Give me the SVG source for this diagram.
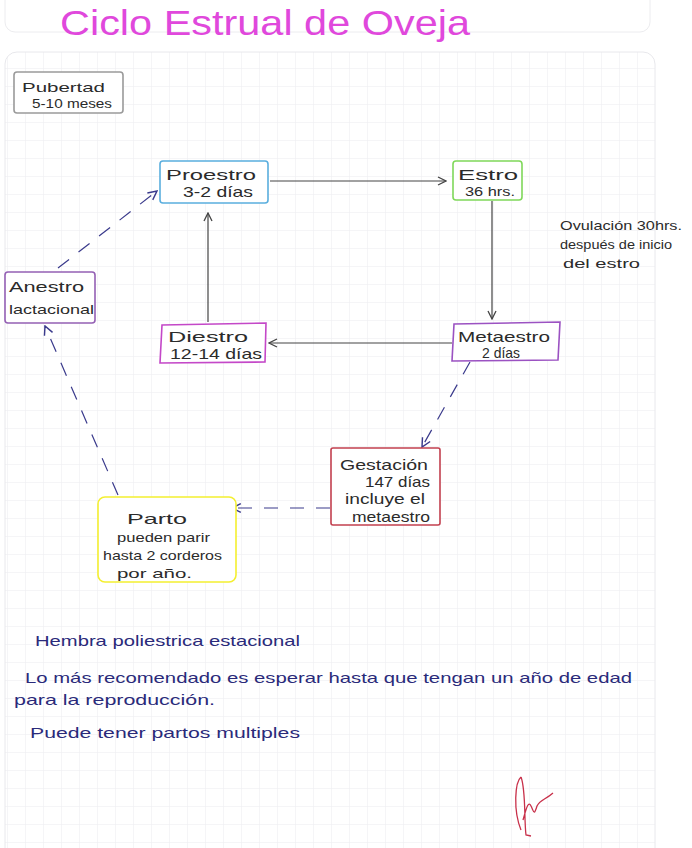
<svg xmlns="http://www.w3.org/2000/svg" width="692" height="848" viewBox="0 0 692 848">
<defs>
<pattern id="grid" x="7" y="14" width="18" height="18" patternUnits="userSpaceOnUse">
<path d="M0,0 H18 M0,0 V18" fill="none" stroke="#ececef" stroke-width="1"/>
</pattern>
<marker id="arr" viewBox="0 0 10 10" refX="9" refY="5" markerWidth="10" markerHeight="10" markerUnits="userSpaceOnUse" orient="auto">
<path d="M1,1 L9,5 L1,9" fill="none" stroke="#444" stroke-width="1.3"/>
</marker>
<marker id="arrB" viewBox="0 0 10 10" refX="9" refY="5" markerWidth="11" markerHeight="11" markerUnits="userSpaceOnUse" orient="auto">
<path d="M1,1 L9,5 L1,9" fill="none" stroke="#3a3a8c" stroke-width="1.3"/>
</marker>
</defs>
<style>
text{font-family:"Liberation Sans","DejaVu Sans",sans-serif;}
.t{font-size:15px;fill:#2b2b2b;}
.s{font-size:13px;fill:#2b2b2b;}
.n{font-size:15px;fill:#2a2a7a;}
.box{fill:#fff;stroke-width:1.6;}
.line{fill:none;stroke:#444;stroke-width:1.2;marker-end:url(#arr);}
.dash{fill:none;stroke:#3a3a8c;stroke-width:1.2;stroke-dasharray:14 12;marker-end:url(#arrB);}
</style>
<rect x="0" y="0" width="692" height="848" fill="#ffffff"/>
<rect x="5" y="-12" width="645" height="44" rx="10" fill="none" stroke="#ececef" stroke-width="1"/>
<rect x="5" y="52" width="650" height="810" rx="12" fill="url(#grid)" stroke="#e8e8ec" stroke-width="1"/>
<text x="60" y="35" font-size="35" fill="#e048dc" textLength="410" lengthAdjust="spacingAndGlyphs">Ciclo Estrual de Oveja</text>

<g id="connectors">
<path class="line" d="M270,181 L446,181"/>
<path class="line" d="M492,201 L492,319"/>
<path class="line" d="M452,343 L269,343"/>
<path class="line" d="M208,322 L208,213"/>
<path class="dash" d="M58,268 L157,191"/>
<path class="dash" d="M470,362 L422,447"/>
<path class="dash" d="M330,508 L232,508"/>
<path class="dash" d="M118,495 L45,326"/>
</g>

<g id="pubertad">
<rect class="box" x="14" y="72" width="109" height="41" rx="3" stroke="#9a9a9a" stroke-width="1.2"/>
<text class="s" x="22" y="92" textLength="83" lengthAdjust="spacingAndGlyphs">Pubertad</text>
<text class="s" x="32" y="108" textLength="80" lengthAdjust="spacingAndGlyphs">5-10 meses</text>
</g>

<g id="proestro">
<rect class="box" x="160" y="161" width="108" height="42" rx="3" stroke="#5aaede"/>
<text class="t" x="166" y="180" font-size="17" textLength="90" lengthAdjust="spacingAndGlyphs">Proestro</text>
<text class="t" x="183" y="197" textLength="70" lengthAdjust="spacingAndGlyphs">3-2 días</text>
</g>

<g id="estro">
<rect class="box" x="453" y="161" width="69" height="39" rx="3" stroke="#7fd85a"/>
<text class="t" x="458" y="180" textLength="60" lengthAdjust="spacingAndGlyphs">Estro</text>
<text class="s" x="465" y="196" textLength="50" lengthAdjust="spacingAndGlyphs">36 hrs.</text>
</g>

<g id="ovulacion">
<text class="s" x="560" y="230" textLength="122" lengthAdjust="spacingAndGlyphs">Ovulación 30hrs.</text>
<text class="s" x="560" y="249" textLength="112" lengthAdjust="spacingAndGlyphs">después de inicio</text>
<text class="s" x="563" y="268" textLength="77" lengthAdjust="spacingAndGlyphs">del estro</text>
</g>

<g id="metaestro">
<path class="box" d="M454,324 L560,322 L558,360 L452,361 Z" stroke="#9b52c2"/>
<text class="t" x="458" y="342" textLength="92" lengthAdjust="spacingAndGlyphs">Metaestro</text>
<text class="t" x="482" y="358" textLength="38" lengthAdjust="spacingAndGlyphs">2 días</text>
</g>

<g id="diestro">
<path class="box" d="M162,325 L266,323 L265,362 L160,363 Z" stroke="#c448c8"/>
<text class="t" x="168" y="342" textLength="80" lengthAdjust="spacingAndGlyphs">Diestro</text>
<text class="t" x="170" y="359" textLength="92" lengthAdjust="spacingAndGlyphs">12-14 días</text>
</g>

<g id="anestro">
<rect class="box" x="5" y="272" width="90" height="51" rx="3" stroke="#9460b4"/>
<text class="t" x="9" y="292" textLength="75" lengthAdjust="spacingAndGlyphs">Anestro</text>
<text class="s" x="9" y="314" textLength="85" lengthAdjust="spacingAndGlyphs">lactacional</text>
</g>

<g id="gestacion">
<rect class="box" x="331" y="448" width="109" height="77" rx="2" stroke="#c2404f"/>
<text class="t" x="340" y="470" font-size="17" textLength="88" lengthAdjust="spacingAndGlyphs">Gestación</text>
<text class="t" x="365" y="487" textLength="65" lengthAdjust="spacingAndGlyphs">147 días</text>
<text class="t" x="345" y="504" textLength="80" lengthAdjust="spacingAndGlyphs">incluye el</text>
<text class="t" x="352" y="522" textLength="78" lengthAdjust="spacingAndGlyphs">metaestro</text>
</g>

<g id="parto">
<rect class="box" x="98" y="497" width="138" height="85" rx="7" stroke="#f4ef30" stroke-width="3"/>
<text class="t" x="127" y="524" font-size="21" textLength="60" lengthAdjust="spacingAndGlyphs">Parto</text>
<text class="s" x="117" y="542" textLength="93" lengthAdjust="spacingAndGlyphs">pueden parir</text>
<text class="s" x="103" y="560" textLength="119" lengthAdjust="spacingAndGlyphs">hasta 2 corderos</text>
<text class="s" x="117" y="578" textLength="75" lengthAdjust="spacingAndGlyphs">por año.</text>
</g>

<g id="notes">
<text class="n" x="35" y="646" textLength="265" lengthAdjust="spacingAndGlyphs">Hembra poliestrica estacional</text>
<text class="n" x="25" y="683" textLength="607" lengthAdjust="spacingAndGlyphs">Lo más recomendado es esperar hasta que tengan un año de edad</text>
<text class="n" x="14" y="705" textLength="201" lengthAdjust="spacingAndGlyphs">para la reproducción.</text>
<text class="n" x="30" y="738" textLength="270" lengthAdjust="spacingAndGlyphs">Puede tener partos multiples</text>
</g>

<path d="M521,777 C515,782 513,810 521,830 M521,777 C526,790 524,820 526,835 L531,836 M523,820 C526,810 528,800 531,806 C534,812 534,816 537,806 C540,800 545,800 553,793" fill="none" stroke="#c8304a" stroke-width="1.3"/>
</svg>
